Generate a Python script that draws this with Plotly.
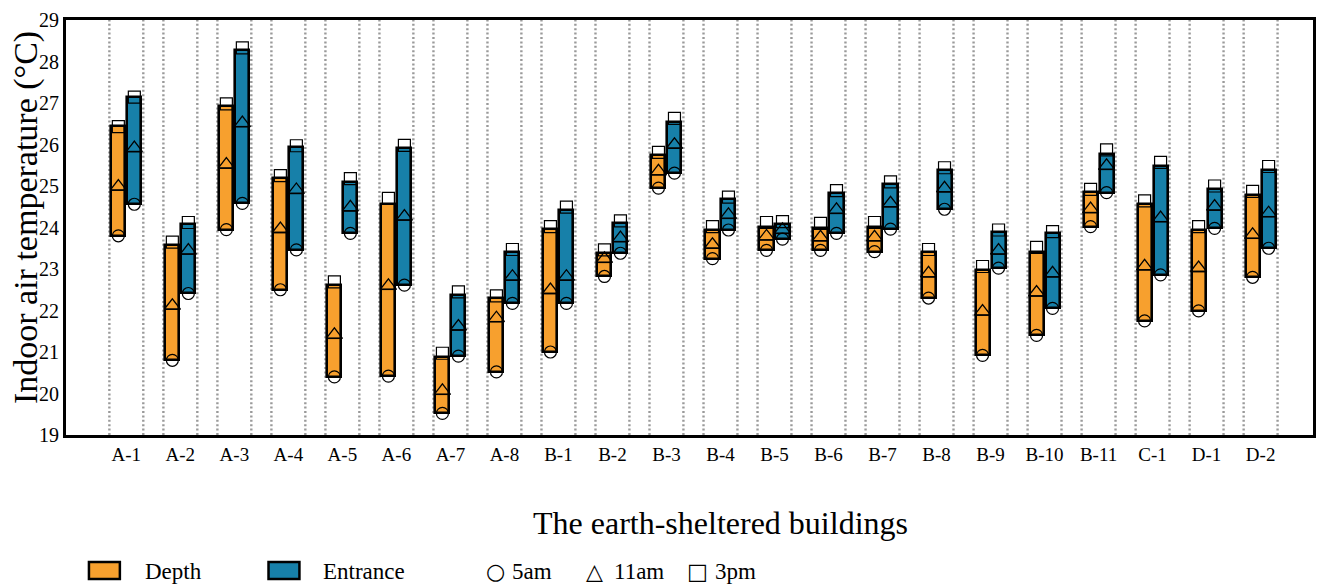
import plotly.graph_objects as go

# Buildings along the x axis
buildings = ["A-1", "A-2", "A-3", "A-4", "A-5", "A-6", "A-7", "A-8",
             "B-1", "B-2", "B-3", "B-4", "B-5", "B-6", "B-7", "B-8", "B-9",
             "B-10", "B-11", "C-1", "D-1", "D-2"]

# Depth zone temperatures (°C)
depth_5am = [23.80, 20.80, 23.95, 22.50, 20.40, 20.42, 19.52, 20.52, 21.00, 22.82, 24.95,
             23.25, 23.45, 23.45, 23.42, 22.30, 20.92, 21.40, 24.02, 21.75, 21.99, 22.80]
depth_11am = [24.90, 22.03, 25.43, 23.88, 21.33, 22.51, 19.98, 21.73, 22.41, 23.16, 25.27,
              23.50, 23.70, 23.68, 23.68, 22.81, 21.89, 22.35, 24.36, 22.98, 22.94, 23.74]
depth_3pm = [26.43, 23.65, 26.98, 25.25, 22.69, 24.70, 20.97, 22.35, 24.02, 23.46, 25.81,
             24.02, 24.12, 24.10, 24.12, 23.47, 23.06, 23.52, 24.92, 24.64, 24.02, 24.87]
depth_top = [26.45, 23.58, 26.93, 25.20, 22.61, 24.57, 20.89, 22.31, 23.96, 23.39, 25.75,
             23.94, 24.02, 24.00, 24.02, 23.42, 22.98, 23.42, 24.86, 24.57, 23.94, 24.78]

# Entrance zone temperatures (°C)
entrance_5am = [24.56, 22.41, 24.58, 23.46, 23.86, 22.61, 20.90, 22.17, 22.17, 23.38, 25.31,
                23.94, 23.72, 23.86, 23.96, 24.44, 23.02, 22.05, 24.84, 22.86, 23.98, 23.50]
entrance_11am = [25.83, 23.36, 26.43, 24.82, 24.40, 24.18, 21.53, 22.73, 22.73, 23.66, 25.91,
                 24.22, 23.86, 24.34, 24.50, 24.86, 23.36, 22.81, 25.40, 24.14, 24.42, 24.26]
entrance_3pm = [27.14, 24.12, 28.33, 25.97, 25.18, 25.98, 22.45, 23.47, 24.49, 24.16, 26.63,
                24.73, 24.14, 24.89, 25.10, 25.44, 23.94, 23.90, 25.87, 25.57, 25.00, 25.47]
entrance_top = [27.14, 24.08, 28.28, 25.93, 25.09, 25.92, 22.38, 23.41, 24.42, 24.12, 26.55,
                24.68, 24.08, 24.84, 25.06, 25.39, 23.88, 23.86, 25.77, 25.48, 24.92, 25.39]

y_ticks = list(range(19, 30))

ORANGE = "#F7A02E"
BLUE = "#1780A9"
SERIF = "Liberation Serif, Times New Roman, serif"

W, H = 1322, 586
ML, MR, MT, MB = 66, 6, 20, 151
Y_RANGE = (19, 29)
X_RANGE = (-1.117, 21.97)
px_per_deg = (H - MT - MB) / (Y_RANGE[1] - Y_RANGE[0])

OFFSET = 0.148
BAR_W = 0.26
TRI_SIZE = 14
tri_lift = (TRI_SIZE / 4) / px_per_deg  # sits the triangle's base on the 11am line

idx = list(range(len(buildings)))
fig = go.Figure()

series = [
    (depth_5am, depth_11am, depth_3pm, depth_top, -OFFSET, ORANGE),
    (entrance_5am, entrance_11am, entrance_3pm, entrance_top, OFFSET, BLUE),
]

for t5, t11, t15, top, off, color in series:
    xs = [i + off for i in idx]
    fig.add_trace(go.Bar(
        x=xs, base=t5, y=[a - b for a, b in zip(top, t5)], width=BAR_W,
        marker=dict(color=color, line=dict(color="black", width=2.6)),
        showlegend=False, hoverinfo="skip"))
    fig.add_trace(go.Scatter(
        x=xs, y=t11, mode="markers", showlegend=False, hoverinfo="skip",
        marker=dict(symbol="line-ew", size=10.5, line=dict(color="black", width=1.5))))
    fig.add_trace(go.Scatter(
        x=xs, y=[v + tri_lift for v in t11], mode="markers", showlegend=False, hoverinfo="skip",
        marker=dict(symbol="triangle-up-open", size=TRI_SIZE, color="black",
                    line=dict(color="black", width=1.3))))
    fig.add_trace(go.Scatter(
        x=xs, y=t5, mode="markers", showlegend=False, hoverinfo="skip",
        marker=dict(symbol="circle-open", size=12, color="black",
                    line=dict(color="black", width=1.2))))
    fig.add_trace(go.Scatter(
        x=xs, y=t15, mode="markers", showlegend=False, hoverinfo="skip",
        marker=dict(symbol="square-open", size=12, color="black",
                    line=dict(color="black", width=1.2))))

# dotted separators at both sides of each building's pair of bars
shapes = []
for i in idx:
    for dx in (-0.314, 0.314):
        shapes.append(dict(type="line", xref="x", yref="y domain", x0=i + dx, x1=i + dx,
                           y0=0, y1=1, layer="below",
                           line=dict(color="#9a9a9a", width=2.4, dash="2px,2.4px")))

plot_w = W - ML - MR
plot_h = H - MT - MB


def px_x(px):
    return (px - ML) / plot_w


def px_y(py):
    return (H - MB - py) / plot_h


# legend swatches
for x0, col in ((89, ORANGE), (269, BLUE)):
    shapes.append(dict(type="rect", xref="paper", yref="paper",
                       x0=px_x(x0), x1=px_x(x0 + 31), y0=px_y(579), y1=px_y(562),
                       fillcolor=col, line=dict(color="black", width=2.5)))

annotations = [
    dict(text="Indoor air temperature (°C)", textangle=-90, xref="paper", yref="paper",
         x=px_x(26), y=px_y(218), xanchor="center", yanchor="middle", showarrow=False,
         font=dict(family=SERIF, size=34, color="black")),
    dict(text="The earth-sheltered buildings", xref="paper", yref="paper",
         x=px_x(722), y=px_y(523), xanchor="center", yanchor="middle", showarrow=False,
         font=dict(family=SERIF, size=32, color="black")),
]
legend_texts = [("Depth", 143), ("Entrance", 322), ("○", 485), ("5am", 511),
                ("△", 585), ("11am", 613), ("□", 686), ("3pm", 715)]
for txt, x0 in legend_texts:
    sym = txt in "○△□"
    annotations.append(dict(text=txt, xref="paper", yref="paper", x=px_x(x0), y=px_y(571),
                            xanchor="left", yanchor="middle", showarrow=False,
                            font=dict(family="DejaVu Sans" if sym else SERIF,
                                      size=22 if sym else 23, color="black")))

fig.update_layout(
    width=W, height=H, autosize=False,
    margin=dict(l=ML, r=MR, t=MT, b=MB, pad=0),
    paper_bgcolor="white", plot_bgcolor="white",
    barmode="overlay", bargap=0,
    shapes=shapes, annotations=annotations,
    xaxis=dict(range=list(X_RANGE), tickvals=idx, ticktext=buildings, showgrid=False,
               zeroline=False, showline=True, linecolor="black", linewidth=3, mirror=True,
               ticks="", tickfont=dict(family=SERIF, size=19, color="black")),
    yaxis=dict(range=list(Y_RANGE), tickvals=y_ticks, showgrid=False, zeroline=False,
               showline=True, linecolor="black", linewidth=3, mirror=True, ticks="",
               tickfont=dict(family=SERIF, size=20, color="black")),
)

fig.write_html("out.html")
